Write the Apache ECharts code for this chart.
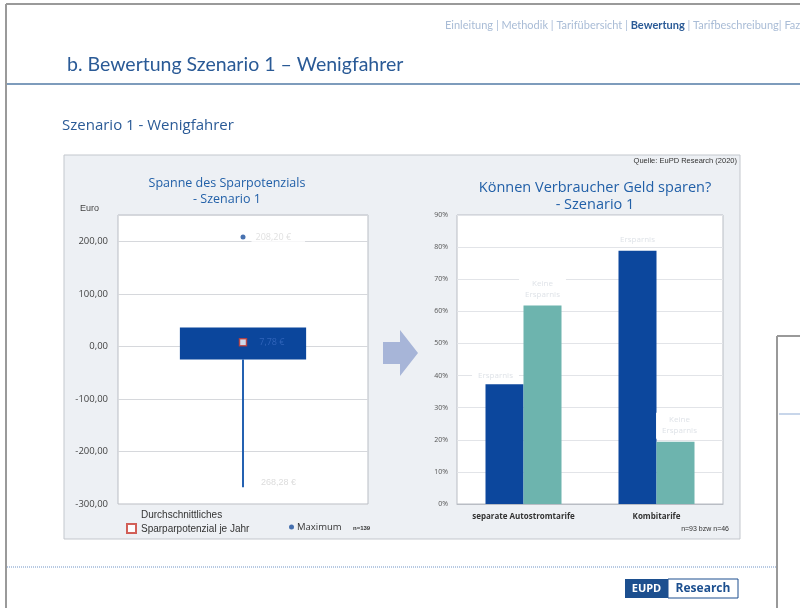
<!DOCTYPE html>
<html>
<head>
<meta charset="utf-8">
<script src="https://cdn.jsdelivr.net/npm/echarts@6/dist/echarts.min.js"></script>
<style>
  html, body { margin: 0; padding: 0; background: #fff; }
  #main { width: 800px; height: 608px; }
</style>
</head>
<body>
<div id="main"></div>
<script>
// Spanne des Sparpotenzials (Euro)
const boxCategories = ['Szenario 1'];
const sparMin = [-268.28];
const sparQ1 = [-25];
const sparQ3 = [36];
const sparMean = [7.78];
const sparMax = [208.2];
const euroTicks = { min: -300, max: 250, interval: 100 };

// Können Verbraucher Geld sparen? (Anteil in %)
const tarifCategories = ['separate Autostromtarife', 'Kombitarife'];
const ersparnis = [37.3, 78.9];
const keineErsparnis = [61.8, 19.4];
const pctTicks = { min: 0, max: 90, interval: 10 };

// Verschiebung der Balkenbeschriftungen (nur Optik)
const ersparnisLabelOffset = [[-9, 0], [0, -2]];
const keineLabelOffset = [[0, 0], [4, 0]];

const blueText = '#2260a8';
const euro = v => v.toFixed(2).replace('.', ',') + ' €';

const chart = echarts.init(document.getElementById('main'));

const boxData = boxCategories.map((c, i) => [i, sparMin[i], sparQ1[i], sparQ3[i]]);

chart.setOption({
  animation: false,
  textStyle: { fontFamily: 'Open Sans' },
  graphic: [
    // Seitenrahmen
    { type: 'line', shape: { x1: 6, y1: 4, x2: 800, y2: 4 }, style: { stroke: '#9a9a9a', lineWidth: 2 } },
    { type: 'line', shape: { x1: 6, y1: 4, x2: 6, y2: 608 }, style: { stroke: '#9a9a9a', lineWidth: 2 } },
    // Navigation
    {
      type: 'text', left: 445, top: 20,
      style: {
        text: '{n|Einleitung | Methodik | Tarifübersicht | }{b|Bewertung}{n| | Tarifbeschreibung| Fazit}',
        rich: {
          n: { fontFamily: 'Lato', fontSize: 11, fill: '#a9bcd6' },
          b: { fontFamily: 'Lato', fontSize: 11, fontWeight: 'bold', fill: '#2a5a96' }
        }
      }
    },
    // Überschrift
    {
      type: 'text', left: 67, top: 55,
      style: { text: 'b. Bewertung Szenario 1 – Wenigfahrer', fontFamily: 'Lato', fontSize: 19.5, fill: '#2a5a96' }
    },
    { type: 'line', shape: { x1: 7, y1: 84, x2: 800, y2: 84 }, style: { stroke: '#7e9cbc', lineWidth: 2 } },
    {
      type: 'text', left: 62, top: 118,
      style: { text: 'Szenario 1 - Wenigfahrer', fontFamily: 'Open Sans', fontSize: 15, fill: '#2a5a96' }
    },
    // Panel
    {
      type: 'rect', z: -10, shape: { x: 64, y: 155, width: 676, height: 384 },
      style: { fill: '#edf0f4', stroke: '#c3c7cd', lineWidth: 1 }
    },
    {
      type: 'text', left: 80, top: 204,
      style: { text: 'Euro', fontSize: 9, fill: '#444' }
    },
    {
      type: 'text', x: 737, y: 157, style: { text: 'Quelle: EuPD Research (2020)', fontSize: 7.5, fill: '#333', align: 'right' }
    },
    // Pfeil
    {
      type: 'polygon',
      shape: { points: [[383, 342], [400, 342], [400, 330], [418, 353], [400, 376], [400, 364], [383, 364]] },
      style: { fill: '#a7b5d8' }
    },
    // Legende links
    { type: 'text', left: 141, top: 508, style: { text: 'Durchschnittliches\nSparparpotenzial je Jahr', fontSize: 10, lineHeight: 14, fill: '#333' } },
    { type: 'text', left: 353, top: 525, style: { text: 'n=139', fontSize: 6, fontWeight: 'bold', fill: '#333' } },
    { type: 'text', x: 729, y: 526, style: { text: 'n=93 bzw n=46', fontSize: 7, fill: '#333', align: 'right' } },
    // Fusszeile
    { type: 'line', shape: { x1: 7, y1: 567, x2: 776, y2: 567 }, style: { stroke: '#6f93c6', lineWidth: 1, lineDash: [1, 1] } },
    { type: 'rect', shape: { x: 625, y: 579, width: 43, height: 19 }, style: { fill: '#1c4f8f' } },
    { type: 'rect', shape: { x: 668, y: 579, width: 70, height: 19 }, style: { fill: '#fff', stroke: '#1c4f8f', lineWidth: 1 } },
    { type: 'text', x: 646.5, y: 589, style: { text: 'EUPD', fontFamily: 'Open Sans', fontSize: 11, fontWeight: 'bold', fill: '#fff', align: 'center', verticalAlign: 'middle' } },
    { type: 'text', x: 703, y: 589, style: { text: 'Research', fontFamily: 'Open Sans', fontSize: 12, fontWeight: 'bold', fill: '#1c4f8f', align: 'center', verticalAlign: 'middle' } },
    // überlappendes Fenster rechts
    { type: 'line', shape: { x1: 777, y1: 336, x2: 777, y2: 608 }, style: { stroke: '#999', lineWidth: 2 } },
    { type: 'line', shape: { x1: 777, y1: 336, x2: 800, y2: 336 }, style: { stroke: '#999', lineWidth: 2 } },
    { type: 'line', shape: { x1: 779, y1: 414, x2: 800, y2: 414 }, style: { stroke: '#c8d6ea', lineWidth: 2 } }
  ],
  title: [
    {
      text: 'Spanne des Sparpotenzials\n- Szenario 1', left: 222, top: 170, textAlign: 'center',
      textStyle: { fontSize: 12.5, fontWeight: 'normal', color: blueText, lineHeight: 16 }
    },
    {
      text: 'Können Verbraucher Geld sparen?\n- Szenario 1', left: 590, top: 174, textAlign: 'center',
      textStyle: { fontSize: 14.5, fontWeight: 'normal', color: blueText, lineHeight: 17 }
    }
  ],
  legend: [
    {
      left: 121, top: 518, itemWidth: 9, itemHeight: 9,
      data: [{ name: 'Durchschnitt', icon: 'rect' }],
      formatter: () => '',
      selectedMode: false
    },
    {
      left: 284, top: 517, itemWidth: 5, itemHeight: 5, itemGap: 2,
      data: [{ name: 'Maximum', icon: 'circle' }],
      textStyle: { fontSize: 9.5, color: '#333', padding: [0, 0, 0, -2] },
      selectedMode: false
    }
  ],
  grid: [
    { left: 118, top: 215, width: 250, height: 289, show: true, backgroundColor: '#fff', borderColor: '#b9bdc4', borderWidth: 1 },
    { left: 457, top: 215, width: 266, height: 289, show: true, backgroundColor: '#fff', borderColor: '#b9bdc4', borderWidth: 1 }
  ],
  xAxis: [
    {
      gridIndex: 0, type: 'category', data: boxCategories,
      axisLine: { show: false }, axisTick: { show: false }, axisLabel: { show: false }
    },
    {
      gridIndex: 1, type: 'category', data: tarifCategories,
      axisLine: { lineStyle: { color: '#b9bdc4' } }, axisTick: { show: false },
      axisLabel: { interval: 0, fontSize: 8, fontWeight: 'bold', color: '#333', margin: 9 }
    }
  ],
  yAxis: [
    {
      gridIndex: 0, type: 'value', min: euroTicks.min, max: euroTicks.max, interval: euroTicks.interval,
      axisLine: { show: false }, axisTick: { show: false },
      axisLabel: { fontSize: 9.5, color: '#444', margin: 10, showMaxLabel: false, formatter: v => v.toFixed(2).replace('.', ',') },
      splitLine: { lineStyle: { color: '#d6d8dc' } }
    },
    {
      gridIndex: 1, type: 'value', min: pctTicks.min, max: pctTicks.max, interval: pctTicks.interval,
      axisLine: { show: false }, axisTick: { show: false },
      axisLabel: { fontSize: 7, color: '#555', margin: 9, formatter: '{value}%' },
      splitLine: { lineStyle: { color: '#e2e4e8' } }
    }
  ],
  series: [
    {
      name: 'Spanne', type: 'custom', xAxisIndex: 0, yAxisIndex: 0, z: 3,
      data: boxData,
      renderItem: function (params, api) {
        const x = api.value(0);
        const low = api.coord([x, api.value(1)]);
        const bot = api.coord([x, api.value(2)]);
        const top = api.coord([x, api.value(3)]);
        const w = api.size([1, 0])[0] * 0.505;
        return {
          type: 'group',
          children: [
            { type: 'line', shape: { x1: low[0], y1: bot[1], x2: low[0], y2: low[1] }, style: { stroke: '#2461b1', lineWidth: 2 } },
            { type: 'rect', shape: { x: top[0] - w / 2, y: top[1], width: w, height: bot[1] - top[1] }, style: { fill: '#0b469c' } },
            { type: 'text', x: low[0] + 18, y: low[1] - 9, style: { text: euro(Math.abs(api.value(1))), fontSize: 9, fill: '#dcdcdc' } }
          ]
        };
      }
    },
    {
      name: 'Durchschnitt', type: 'scatter', xAxisIndex: 0, yAxisIndex: 0, z: 5,
      data: sparMean, symbol: 'rect', symbolSize: 7,
      itemStyle: { color: '#fff', borderColor: '#c8382e', borderWidth: 1.5 },
      label: { show: true, position: 'right', distance: 12, fontSize: 9, color: '#3a6cc2', formatter: p => euro(p.value) }
    },
    {
      name: 'Maximum', type: 'scatter', xAxisIndex: 0, yAxisIndex: 0, z: 5,
      data: sparMax, symbol: 'circle', symbolSize: 5,
      itemStyle: { color: '#1a4f9c' },
      label: {
        show: true, position: 'right', distance: 6, fontSize: 9, color: '#d8d8d8',
        backgroundColor: '#fff', padding: [3, 14, 3, 4], formatter: p => euro(p.value)
      }
    },
    {
      name: 'Ersparnis', type: 'bar', xAxisIndex: 1, yAxisIndex: 1,
      data: ersparnis.map((v, i) => ({ value: v, label: { offset: ersparnisLabelOffset[i] } })),
      barWidth: 38, barGap: '0%',
      itemStyle: { color: '#0c479d' },
      label: {
        show: true, position: 'top', distance: 3, fontSize: 8, color: '#dfe3e8',
        backgroundColor: '#fff', padding: [2, 6], formatter: 'Ersparnis'
      }
    },
    {
      name: 'Keine Ersparnis', type: 'bar', xAxisIndex: 1, yAxisIndex: 1,
      data: keineErsparnis.map((v, i) => ({ value: v, label: { offset: keineLabelOffset[i] } })),
      barWidth: 38, barGap: '0%',
      itemStyle: { color: '#6db4ae' },
      label: {
        show: true, position: 'top', distance: 3, fontSize: 8, color: '#dfe3e8', lineHeight: 11,
        backgroundColor: '#fff', padding: [2, 6], formatter: 'Keine\nErsparnis'
      }
    }
  ]
});
</script>
</body>
</html>
